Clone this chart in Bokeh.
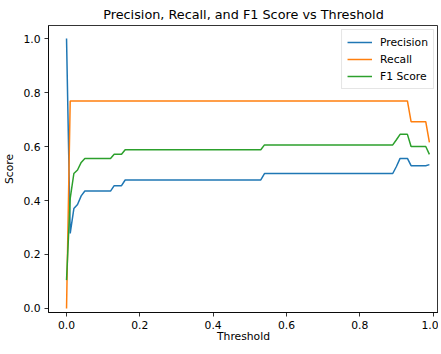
from bokeh.plotting import figure
from bokeh.models import Range1d, FixedTicker, NumeralTickFormatter, Legend, LegendItem
from bokeh.embed import file_html
from bokeh.resources import INLINE

thresholds = [
    0.00, 0.01, 0.02, 0.03, 0.04, 0.05, 0.06, 0.07, 0.08, 0.09,
    0.10, 0.11, 0.12, 0.13, 0.14, 0.15, 0.16, 0.17, 0.18, 0.19,
    0.20, 0.21, 0.22, 0.23, 0.24, 0.25, 0.26, 0.27, 0.28, 0.29,
    0.30, 0.31, 0.32, 0.33, 0.34, 0.35, 0.36, 0.37, 0.38, 0.39,
    0.40, 0.41, 0.42, 0.43, 0.44, 0.45, 0.46, 0.47, 0.48, 0.49,
    0.50, 0.51, 0.52, 0.53, 0.54, 0.55, 0.56, 0.57, 0.58, 0.59,
    0.60, 0.61, 0.62, 0.63, 0.64, 0.65, 0.66, 0.67, 0.68, 0.69,
    0.70, 0.71, 0.72, 0.73, 0.74, 0.75, 0.76, 0.77, 0.78, 0.79,
    0.80, 0.81, 0.82, 0.83, 0.84, 0.85, 0.86, 0.87, 0.88, 0.89,
    0.90, 0.91, 0.92, 0.93, 0.94, 0.95, 0.96, 0.97, 0.98, 0.99,
]

precision = ([1.0, 0.278, 0.370, 0.385, 0.417] + [0.435] * 8 + [0.455] * 3
             + [0.476] * 38 + [0.500] * 36 + [0.526] + [0.556] * 3
             + [0.529] * 5 + [0.533])
recall = [0.0] + [0.769] * 93 + [0.692] * 5 + [0.615]
f1 = ([0.105, 0.408, 0.500, 0.513, 0.541] + [0.556] * 8 + [0.571] * 3
      + [0.588] * 38 + [0.606] * 36 + [0.625] + [0.645] * 3
      + [0.600] * 5 + [0.571])

series_names = ["Precision", "Recall", "F1 Score"]
series_colors = ["#1f77b4", "#ff7f0e", "#2ca02c"]
x_ticks = [0.0, 0.2, 0.4, 0.6, 0.8, 1.0]
y_ticks = [0.0, 0.2, 0.4, 0.6, 0.8, 1.0]

FONT = "DejaVu Sans"

p = figure(width=438, height=350, output_backend="svg", toolbar_location=None,
           x_range=Range1d(-0.0492, 1.0148), y_range=Range1d(-0.0149, 1.0483),
           min_border_left=42, min_border_right=0, min_border_top=19, min_border_bottom=38)

p.title.text = "Precision, Recall, and F1 Score vs Threshold"
p.title.align = "center"
p.title.text_font = FONT
p.title.text_font_size = "12.8px"
p.title.text_font_style = "normal"
p.title.text_color = "#000000"
p.title.standoff = 8

p.xgrid.visible = False
p.ygrid.visible = False
p.outline_line_color = "#000000"
p.outline_line_width = 0.8
p.background_fill_color = "white"
p.border_fill_color = "white"

for ax, ticks in ((p.xaxis[0], x_ticks), (p.yaxis[0], y_ticks)):
    ax.ticker = FixedTicker(ticks=ticks)
    ax.formatter = NumeralTickFormatter(format="0.0")
    ax.minor_tick_line_color = None
    ax.major_tick_out = 4
    ax.major_tick_in = 0
    ax.major_tick_line_width = 0.8
    ax.major_tick_line_color = "#000000"
    ax.axis_line_width = 0.8
    ax.axis_line_color = "#000000"
    ax.major_label_text_font = FONT
    ax.major_label_text_font_size = "10.75px"
    ax.major_label_text_color = "#000000"
    ax.major_label_standoff = 4
    ax.axis_label_text_font = FONT
    ax.axis_label_text_font_size = "10.75px"
    ax.axis_label_text_font_style = "normal"
    ax.axis_label_text_color = "#000000"

p.xaxis.axis_label = "Threshold"
p.yaxis.axis_label = "Score"
p.xaxis.major_label_standoff = 4
p.xaxis.axis_label_standoff = -2
p.yaxis.axis_label_standoff = 4

renderers = []
for vals, color in zip((precision, recall, f1), series_colors):
    r = p.line(thresholds, vals, line_color=color, line_width=1.5)
    renderers.append(r)

legend = Legend(items=[LegendItem(label=n, renderers=[r]) for n, r in zip(series_names, renderers)],
                location="top_right")
legend.label_text_font = FONT
legend.label_text_font_size = "10.75px"
legend.label_text_color = "#000000"
legend.glyph_width = 25
legend.glyph_height = 14
legend.label_height = 14
legend.label_standoff = 8
legend.spacing = 3
legend.padding = 5
legend.margin = 4
legend.border_line_color = "#cccccc"
legend.border_line_width = 1
legend.background_fill_alpha = 0.8
p.add_layout(legend)

open("out.html", "w").write(file_html(p, INLINE))
